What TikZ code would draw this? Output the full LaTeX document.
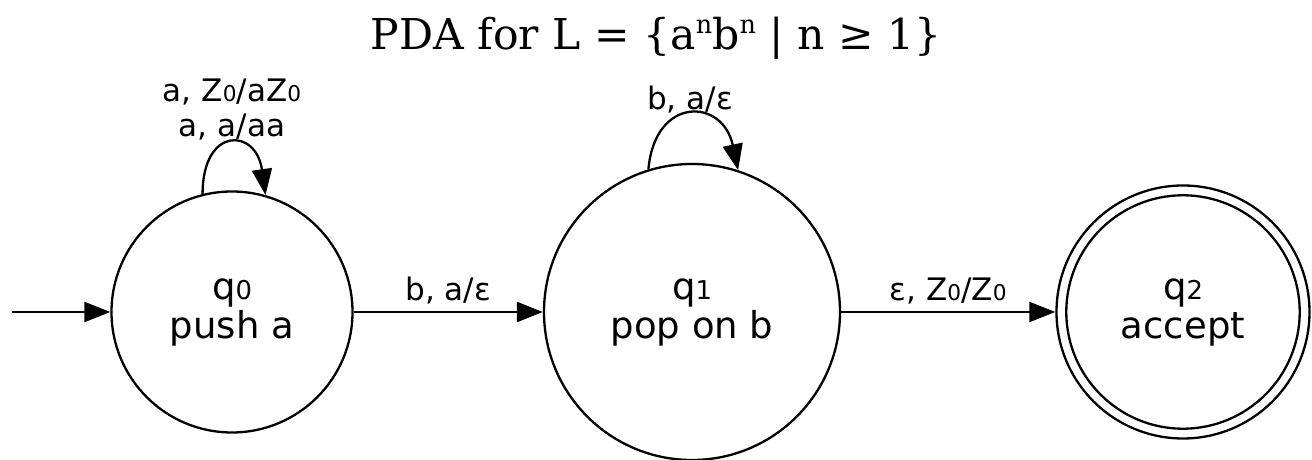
\documentclass[tikz,border=0pt]{standalone}
\usepackage{fontspec}
\setmainfont{DejaVu Sans}
\newfontfamily\statefont{DejaVu Sans}
\newfontfamily\edgefont{DejaVu Sans}
\newfontfamily\titlefont{DejaVu Serif}
\usetikzlibrary{arrows.meta}
\newcommand\sbd[1]{\scalebox{0.7}{#1}}
\newcommand\spn{\raisebox{0.36em}{\scalebox{0.6}{n}}}
\begin{document}
\begin{tikzpicture}[x=1pt,y=1pt,
  state/.style={circle,draw,line width=2.3pt,inner sep=0pt,minimum size=#1,
    align=center,font=\statefont\fontsize{37}{39}\selectfont},
  edge/.style={line width=2.3pt,-{Triangle[length=26pt,width=20pt]}},
  elabel/.style={font=\edgefont\fontsize{31}{35}\selectfont,align=center},
]
\useasboundingbox (0,0) rectangle (1312,460);
\node[font=\titlefont\fontsize{42.5}{44}\selectfont] (title) at (656,422)
  {PDA for L = \{a\spn b\spn\ | n ≥ 1\}};
\node[state=241pt] (q0) at (232,148) {q\sbd{0}\\push a};
\node[state=296pt] (q1) at (692,148) {q\sbd{1}\\pop on b};
\node[state=253pt] (q2) at (1183,148) {q\sbd{2}\\accept};
\draw[line width=2.3pt] (q2.center) circle (116.7pt);
\coordinate (start) at (12,148);
\draw[edge] (start) -- (q0);
\draw[edge] (q0) -- node[elabel,above=3pt] (l01) {b, a/ε} (q1);
\draw[edge] (q1) -- node[elabel,above=3pt] (l12) {ε, Z\sbd{0}/Z\sbd{0}} (q2);
\draw[edge] (q0.104) .. controls +(90:68) and +(98:68) .. (q0.74);
\draw[edge] (q1.107) .. controls +(85:74) and +(102:74) .. (q1.72);
\node[elabel] (lq0) at (232,350) {a, Z\sbd{0}/aZ\sbd{0}\\a, a/aa};
\node[elabel] (lq1) at (690,360) {b, a/ε};
\end{tikzpicture}
\end{document}
